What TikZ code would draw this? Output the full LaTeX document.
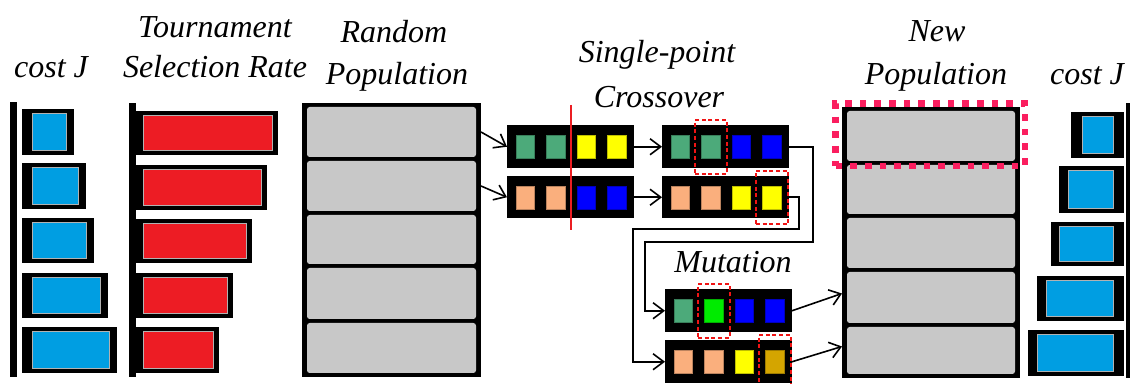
\documentclass[tikz,border=0pt]{standalone}
\usepackage{fontspec}
\setmainfont{Liberation Serif}
\usetikzlibrary{fit,arrows.meta}

\definecolor{costblue}{RGB}{0,158,226}
\definecolor{ratered}{RGB}{237,28,36}
\definecolor{popgray}{RGB}{200,200,200}
\definecolor{teal}{RGB}{76,170,122}
\definecolor{yel}{RGB}{255,255,0}
\definecolor{gblue}{RGB}{0,0,255}
\definecolor{peach}{RGB}{250,175,125}
\definecolor{lime}{RGB}{0,235,0}
\definecolor{ochre}{RGB}{212,165,0}
\definecolor{pickred}{RGB}{240,20,20}
\definecolor{hotpink}{RGB}{250,30,95}
\definecolor{cutred}{RGB}{235,30,35}

% one chromosome: name, left x, top y, four gene colours
\newcommand{\chromo}[7]{%
  \node[chrom, fit={(#2,#3)(#2+127,#3+42.5)}] (#1) {};
  \foreach [count=\k] \c in {#4,#5,#6,#7}
    \node[gene=\c, fit={({#2+9+30.5*(\k-1)},#3+10) ({#2+27.5+30.5*(\k-1)},#3+33)}] (#1g\k) {};
}

\begin{document}
\begin{tikzpicture}[x=0.75pt,y=-0.75pt,
  box/.style={inner sep=0pt, outer sep=0pt},
  frame/.style={box, fill=black},
  costfill/.style={box, fill=costblue, draw=black!30, line width=0.5pt},
  ratefill/.style={box, fill=ratered, draw=black!30, line width=0.5pt},
  cell/.style={box, fill=popgray, rounded corners=2pt},
  chrom/.style={box, fill=black},
  gene/.style={box, fill=#1, draw=#1!75!black, line width=0.4pt},
  pickbox/.style={box, draw=pickred, line width=1.6pt, dash pattern=on 3pt off 2pt,
    inner xsep=5pt, inner ysep=11.5pt},
  selbox/.style={box, draw=hotpink, line width=5pt, dash pattern=on 5pt off 6pt},
  cutline/.style={draw=cutred, line width=1.5pt},
  conn/.style={line width=1.2pt, -{Straight Barb[length=8pt,width=12pt]}},
  lbl/.style={font=\fontsize{24}{28}\selectfont\itshape, inner sep=0pt, anchor=base}
]
\useasboundingbox (0,0) rectangle (1131,384);

% ---- titles ----
\node[lbl] (tcostL) at (51,78) {cost J};
\node[lbl] (ttour1) at (215,38) {Tournament};
\node[lbl] (ttour2) at (215,78) {Selection Rate};
\node[lbl] (trand1) at (394,43) {Random};
\node[lbl] (trand2) at (397,85) {Population};
\node[lbl] (tcross1) at (657,63) {Single-point};
\node[lbl] (tcross2) at (659,108) {Crossover};
\node[lbl] (tnew1) at (937,42) {New};
\node[lbl] (tnew2) at (936,85) {Population};
\node[lbl] (tcostR) at (1087,85) {cost J};
\node[lbl] (tmut) at (733,273) {Mutation};

% ---- cost J, left ----
\node[frame, fit={(10,102)(17,377)}] (axisL) {};
\foreach \n/\xa/\ya/\xb/\yb in {1/22/109/74/155, 2/22/163/86/209, 3/22/218/94/263,
                                4/22/273/108/318, 5/22/327/117/373} {
  \node[frame, fit={(\xa,\ya)(\xb,\yb)}] (cl\n) {};
  \node[costfill, fit={(\xa+10,\ya+4.5)(\xb-8,\yb-4.5)}] (cli\n) {};
}

% ---- tournament selection rate ----
\node[frame, fit={(129,103)(136,377)}] (axisT) {};
\foreach \n/\xa/\ya/\xb/\yb in {1/136/111/278/155, 2/136/165/267/210, 3/136/219/252/263,
                                4/136/273/233/318, 5/136/327/219/373} {
  \node[frame, fit={(\xa,\ya)(\xb,\yb)}] (tr\n) {};
  \node[ratefill, fit={(\xa+7,\ya+4.5)(\xb-5.5,\yb-4.5)}] (tri\n) {};
}

% ---- random population ----
\node[frame, fit={(302,103)(481,377)}] (pop) {};
\foreach \a/\b [count=\k] in {107/157, 161/211, 215/264, 268/319, 323/373}
  \node[cell, fit={(307,\a)(476,\b)}] (p\k) {};

% ---- crossover ----
\chromo{pa}{507}{125.5}{teal}{teal}{yel}{yel}
\chromo{pb}{507}{176}{peach}{peach}{gblue}{gblue}
\chromo{ca}{662}{125.5}{teal}{teal}{gblue}{gblue}
\chromo{cb}{662}{176}{peach}{peach}{yel}{yel}
\draw[cutline] (571,105) -- (571,230);
\node[pickbox, fit=(cag2)] (pick1) {};
\node[pickbox, fit=(cbg4)] (pick2) {};

% ---- mutation ----
\chromo{ma}{665}{289.5}{teal}{lime}{gblue}{gblue}
\chromo{mb}{665}{340.5}{peach}{peach}{yel}{ochre}
\node[pickbox, fit=(mag2)] (pick3) {};
\node[pickbox, fit=(mbg4)] (pick4) {};

% ---- new population ----
\node[frame, fit={(842,107)(1020,378)}] (npop) {};
\foreach \a/\b [count=\k] in {111/161, 165/214, 218/268, 272/323, 327/374}
  \node[cell, fit={(847,\a)(1015,\b)}] (q\k) {};
\node[selbox, fit={(835.5,103.5)(1025,166)}] (best) {};

% ---- cost J, right ----
\node[frame, fit={(1126,103)(1130,378)}] (axisR) {};
\foreach \n/\xa/\ya/\xb/\yb/\xi in {1/1071/112/1124/158/1082, 2/1059/166/1124/213/1068,
                                    3/1051/222/1124/266/1059, 4/1037/276/1124/321/1046,
                                    5/1028/330/1124/376/1037} {
  \node[frame, fit={(\xa,\ya)(\xb,\yb)}] (cr\n) {};
  \node[costfill, fit={(\xi,\ya+4.5)(1113,\yb-5)}] (cri\n) {};
}

% ---- connectors ----
\draw[conn] (pop.east |- p1.east) -- (pa.west);
\draw[conn] (pop.east |- p2.east) -- (pb.west);
\draw[conn] (pa.east) -- (ca.west);
\draw[conn] (pb.east) -- (cb.west);
\draw[conn] (ca.east) -- ++(24,0) |- (645,242) |- (ma.west);
\draw[conn] (cb.east) -- ++(10,0) |- (633,229) |- (mb.west);
\path (npop.west |- q4.west) ++(0,-4) coordinate (in4);
\path (npop.west |- q5.west) ++(0,-4) coordinate (in5);
\draw[conn] (ma.east) -- (in4);
\draw[conn] (mb.east) -- (in5);
\end{tikzpicture}
\end{document}
